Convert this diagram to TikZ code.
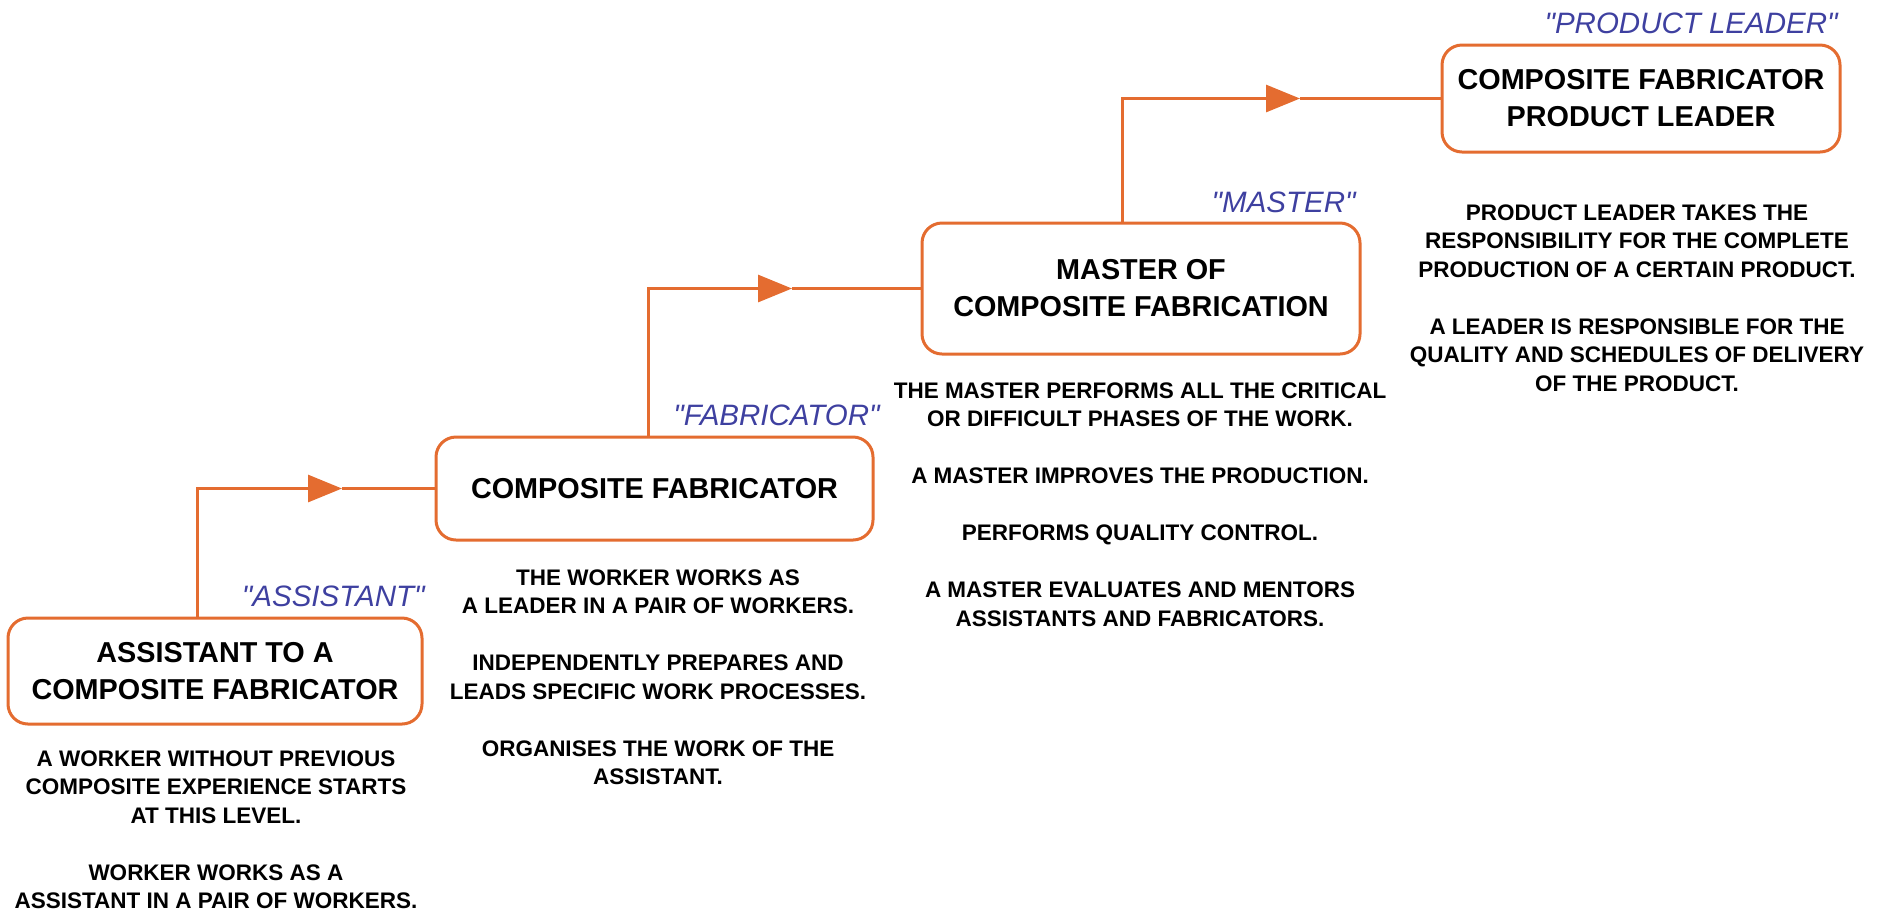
\documentclass[tikz,border=0pt]{standalone}
\usepackage{fontspec}
\setmainfont{Liberation Sans}[Ligatures=TeXOff]
\usetikzlibrary{arrows.meta}

\definecolor{rung}{RGB}{228,108,48}
\definecolor{tagblue}{RGB}{62,64,160}

\tikzset{
    level/.style={draw=rung, line width=1.5pt, rounded corners=10pt, fill=white,
        align=center, inner sep=0pt, font=\fontsize{14.4}{18.5}\selectfont\bfseries},
    duty/.style={align=center, inner sep=0pt, anchor=north,
        font=\fontsize{11.25}{14.25}\selectfont\bfseries},
    tag/.style={text=tagblue, inner sep=0pt, anchor=east,
        font=\fontsize{14.75}{17}\selectfont\itshape},
    climb/.style={draw=rung, line width=1.5pt, -{Triangle[length=17pt, width=13.5pt]}},
    joint/.style={draw=rung, line width=1.5pt},
}

\begin{document}
\begin{tikzpicture}[x=0.5pt, y=-0.5pt]
        \useasboundingbox (0, 0) rectangle (1877, 912);

        % career levels
        \node[level, minimum width=207pt, minimum height=53pt] (assistant) at (215, 671)
            {ASSISTANT TO A\\ COMPOSITE FABRICATOR};
        \node[level, minimum width=218.5pt, minimum height=51.5pt] (fabricator) at (654.5, 488.5)
            {COMPOSITE FABRICATOR};
        \node[level, minimum width=219pt, minimum height=65.5pt] (master) at (1141, 288.5)
            {MASTER OF\\ COMPOSITE FABRICATION};
        \node[level, minimum width=199pt, minimum height=53.5pt] (leader) at (1641, 98.5)
            {COMPOSITE FABRICATOR\\ PRODUCT LEADER};

        % short titles
        \node[tag] (tag assistant) at (425, 596) {"ASSISTANT"};
        \node[tag] (tag fabricator) at (880, 415) {"FABRICATOR"};
        \node[tag] (tag master) at (1356, 202) {"MASTER"};
        \node[tag] (tag leader) at (1838, 23) {"PRODUCT LEADER"};

        % steps
        \coordinate (bend1) at (197, 488.5);
        \coordinate (tip1) at (342, 488.5);
        \coordinate (bend2) at (648, 288.5);
        \coordinate (tip2) at (792, 288.5);
        \coordinate (bend3) at (1122, 98.5);
        \coordinate (tip3) at (1300, 98.5);

        \draw[climb] (assistant.north -| bend1) -- (bend1) -- (tip1);
        \draw[joint] (tip1) -- (fabricator.west);
        \draw[climb] (fabricator.north -| bend2) -- (bend2) -- (tip2);
        \draw[joint] (tip2) -- (master.west);
        \draw[climb] (master.north -| bend3) -- (bend3) -- (tip3);
        \draw[joint] (tip3) -- (leader.west);

        % duties
        \node[duty] (duty assistant) at (216, 750)
            {A WORKER WITHOUT PREVIOUS\\ COMPOSITE EXPERIENCE STARTS\\ AT THIS LEVEL.\\[14.25pt]
             WORKER WORKS AS A\\ ASSISTANT IN A PAIR OF WORKERS.};
        \node[duty] (duty fabricator) at (658, 569)
            {THE WORKER WORKS AS\\ A LEADER IN A PAIR OF WORKERS.\\[14.25pt]
             INDEPENDENTLY PREPARES AND\\ LEADS SPECIFIC WORK PROCESSES.\\[14.25pt]
             ORGANISES THE WORK OF THE\\ ASSISTANT.};
        \node[duty] (duty master) at (1140, 382)
            {THE MASTER PERFORMS ALL THE CRITICAL\\ OR DIFFICULT PHASES OF THE WORK.\\[14.25pt]
             A MASTER IMPROVES THE PRODUCTION.\\[14.25pt]
             PERFORMS QUALITY CONTROL.\\[14.25pt]
             A MASTER EVALUATES AND MENTORS\\ ASSISTANTS AND FABRICATORS.};
        \node[duty] (duty leader) at (1637, 204)
            {PRODUCT LEADER TAKES THE\\ RESPONSIBILITY FOR THE COMPLETE\\ PRODUCTION OF A CERTAIN PRODUCT.\\[14.25pt]
             A LEADER IS RESPONSIBLE FOR THE\\ QUALITY AND SCHEDULES OF DELIVERY\\ OF THE PRODUCT.};

\end{tikzpicture}
\end{document}
